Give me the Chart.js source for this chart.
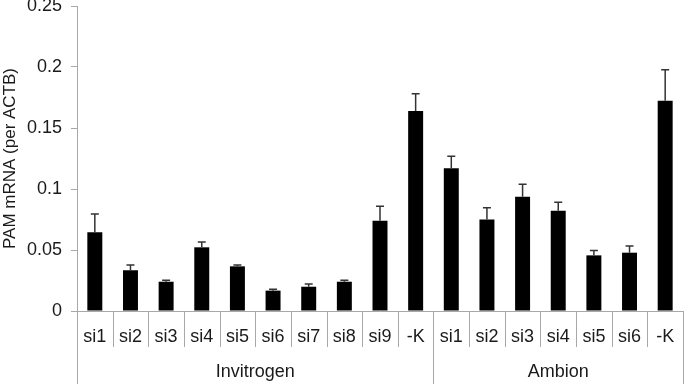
<!DOCTYPE html>
<html>
<head>
<meta charset="utf-8">
<script src="https://cdn.jsdelivr.net/npm/chart.js@4/dist/chart.umd.min.js"></script>
<style>
  body { margin: 0; background: #fff; }
  canvas { display: block; }
</style>
</head>
<body>
<canvas id="pamChart" width="685" height="384"></canvas>
<script>
// data
const categories = ['si1','si2','si3','si4','si5','si6','si7','si8','si9','-K',
                    'si1','si2','si3','si4','si5','si6','-K'];
const groupNames = ['Invitrogen', 'Ambion'];
const groupSizes = [10, 7];
const pamValues = [0.0645, 0.0334, 0.024, 0.0522, 0.0366, 0.0167, 0.0199, 0.024, 0.074, 0.164,
                   0.117, 0.0749, 0.0937, 0.0822, 0.0456, 0.0478, 0.1724];
const pamErrors = [0.015, 0.0043, 0.0012, 0.0044, 0.0011, 0.0011, 0.0022, 0.0012, 0.0118, 0.014,
                   0.0098, 0.0098, 0.0101, 0.0069, 0.0039, 0.0055, 0.0254];
const yTicks = [0, 0.05, 0.1, 0.15, 0.2, 0.25];

const axisGray = '#a8a8a8';
const textColor = '#1a1a1a';
const fontFamily = '"Liberation Sans", Arial, Helvetica, sans-serif';

// error bars + two-level category axis
const extrasPlugin = {
  id: 'extras',
  afterDatasetsDraw(chart) {
    const ctx = chart.ctx;
    const y = chart.scales.y;
    const meta = chart.getDatasetMeta(0);
    ctx.save();
    ctx.strokeStyle = '#333';
    ctx.lineWidth = 1.5;
    meta.data.forEach((bar, i) => {
      const top = y.getPixelForValue(pamValues[i]);
      const errTop = y.getPixelForValue(pamValues[i] + pamErrors[i]);
      ctx.beginPath();
      ctx.moveTo(bar.x, top);
      ctx.lineTo(bar.x, errTop);
      ctx.moveTo(bar.x - 4, errTop);
      ctx.lineTo(bar.x + 4, errTop);
      ctx.stroke();
    });
    ctx.restore();
  },
  afterDraw(chart) {
    const ctx = chart.ctx;
    const x = chart.scales.x;
    const area = chart.chartArea;
    const step = x.getPixelForValue(1) - x.getPixelForValue(0);
    const edge = i => x.getPixelForValue(0) - step / 2 + i * step;
    const groupEdges = [0];
    groupSizes.forEach(n => groupEdges.push(groupEdges[groupEdges.length - 1] + n));

    ctx.save();
    ctx.strokeStyle = axisGray;
    ctx.lineWidth = 1;
    for (let i = 0; i <= categories.length; i++) {
      const px = Math.round(edge(i)) + 0.5;
      const isGroup = groupEdges.includes(i);
      ctx.beginPath();
      ctx.moveTo(px, area.bottom);
      ctx.lineTo(px, isGroup ? chart.height : area.bottom + 36);
      ctx.stroke();
    }
    ctx.fillStyle = textColor;
    ctx.font = '18px ' + fontFamily;
    ctx.textAlign = 'center';
    ctx.textBaseline = 'middle';
    groupNames.forEach((name, g) => {
      const cx = (edge(groupEdges[g]) + edge(groupEdges[g + 1])) / 2;
      ctx.fillText(name, cx, 372);
    });
    ctx.restore();
  }
};

new Chart(document.getElementById('pamChart'), {
  type: 'bar',
  data: {
    labels: categories,
    datasets: [{
      label: 'PAM mRNA',
      data: pamValues,
      backgroundColor: '#000',
      borderWidth: 0,
      barPercentage: 0.42,
      categoryPercentage: 1
    }]
  },
  options: {
    responsive: false,
    animation: false,
    layout: { padding: { top: 6, right: 2, left: 0, bottom: 0 } },
    plugins: { legend: { display: false }, tooltip: { enabled: false } },
    scales: {
      x: {
        grid: { display: false, drawTicks: false },
        border: { display: true, color: axisGray, width: 1 },
        ticks: {
          color: textColor,
          font: { family: fontFamily, size: 18 },
          padding: 15,
          maxRotation: 0,
          autoSkip: false
        },
        afterFit(scale) {
          scale.height = 73;
          scale.paddingLeft = 0;
          scale.paddingRight = 0;
        }
      },
      y: {
        min: 0,
        max: 0.25,
        afterBuildTicks(scale) { scale.ticks = yTicks.map(v => ({ value: v })); },
        grid: { drawOnChartArea: false, tickLength: 6, color: axisGray },
        border: { display: true, color: axisGray, width: 1 },
        ticks: {
          color: textColor,
          font: { family: fontFamily, size: 18 },
          padding: 9,
          callback: v => String(+v.toFixed(2))
        },
        title: {
          display: true,
          text: 'PAM mRNA (per ACTB)',
          color: textColor,
          font: { family: fontFamily, size: 17 },
          padding: { top: 0, bottom: 0 }
        },
        afterFit(scale) {
          scale.width = 77;
          scale.paddingTop = 0;
          scale.paddingBottom = 0;
        }
      }
    }
  },
  plugins: [extrasPlugin]
});
</script>
</body>
</html>
